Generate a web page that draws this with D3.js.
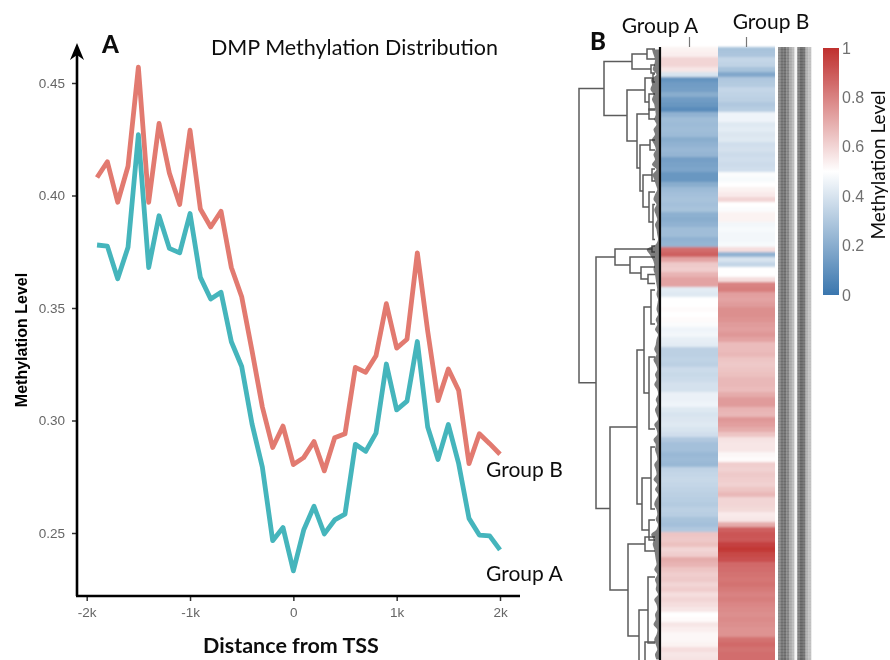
<!DOCTYPE html>
<html>
<head>
<meta charset="utf-8">
<script src="https://cdn.jsdelivr.net/npm/d3@7"></script>
<style>
	html, body { margin: 0; padding: 0; background: #fff; }
	svg { display: block; }
	.lato { font-family: Lato, "Open Sans", sans-serif; fill: #111; }
	.tick text { font-family: "Liberation Sans", Arial, sans-serif; font-size: 13.5px; fill: #666; }
</style>
</head>
<body>
<svg id="fig" width="890" height="660"></svg>
<script>
// panel A, every 100 bp from -1.9k to 2k
var distance = d3.range(-1900, 2001, 100);
var groupB = [.408,.415,.397,.413,.457,.397,.432,.410,.396,.429,.394,.386,.393,.368,.355,.331,.306,.288,.2975,.2804,.2835,.2907,.2776,.2923,.2941,.3236,.3214,.3288,.3519,.3322,.3361,.3745,.3398,.3088,.3229,.3133,.2808,.2941,.2897,.2850];
var groupA = [.378,.3775,.363,.377,.427,.368,.391,.3765,.3745,.392,.3636,.354,.357,.335,.324,.2985,.2793,.2466,.2524,.2332,.2513,.2619,.2496,.2558,.2584,.2894,.2863,.2944,.3251,.3047,.3086,.3351,.2971,.2827,.2982,.2808,.2565,.2491,.2487,.2425];
var xTicks = [-2000, -1000, 0, 1000, 2000];
var xTickLabels = ['-2k', '-1k', '0', '1k', '2k'];
var yTicks = [.25, .30, .35, .40, .45];

// panel B, heatmap rows top to bottom
var heatA = [.53,.54,.60,.60,.56,.40,.11,.14,.15,.20,.14,.12,.08,.22,.26,.25,.26,.25,.20,.22,.24,.23,.15,.16,.17,.12,.12,.20,.25,.27,.28,.27,.28,.21,.20,.22,.26,.26,.22,.23,.85,.88,.72,.63,.62,.68,.72,.72,.43,.42,.50,.50,.51,.50,.51,.49,.46,.47,.44,.43,.33,.33,.34,.33,.37,.36,.37,.39,.39,.45,.45,.46,.42,.40,.41,.42,.40,.38,.30,.27,.27,.24,.25,.24,.34,.35,.36,.35,.34,.33,.32,.31,.33,.32,.28,.27,.30,.64,.63,.65,.60,.62,.70,.68,.64,.62,.63,.60,.62,.58,.60,.58,.56,.50,.51,.56,.54,.52,.52,.53,.58,.56,.57];
var heatB = [.28,.29,.35,.34,.28,.18,.30,.31,.35,.34,.33,.30,.32,.46,.46,.42,.43,.41,.42,.38,.39,.37,.38,.37,.38,.49,.48,.50,.53,.55,.60,.50,.49,.53,.53,.47,.48,.47,.47,.48,.58,.22,.40,.35,.50,.50,.58,.80,.81,.73,.72,.74,.77,.77,.76,.74,.73,.75,.72,.66,.66,.67,.64,.63,.64,.65,.67,.67,.66,.70,.74,.74,.68,.67,.75,.73,.70,.64,.57,.56,.56,.52,.51,.62,.61,.63,.62,.61,.64,.67,.60,.60,.59,.55,.56,.70,.88,.91,.90,.96,.98,.94,.92,.86,.85,.84,.83,.84,.82,.80,.81,.79,.78,.77,.78,.77,.76,.76,.84,.86,.84,.85,.85];
var heatGroups = ['Group A', 'Group B'];
var legendTicks = [0, .2, .4, .6, .8, 1];
var annoDark = [.55,.65,.66,.58,.45,.38,.08,.6,.68,.64,.42,.36];

// dendrogram: [height, upper, lower], a bare number is a row position
var dendro = [82,
	[57,
		[29, [14, .4, 2.4], [10, 3.6, 5.2]],
		[34,
			[16, [8, 5.4, 7], [12, 9.4, 12.6]],
			[24,
				[12, 12.4, 14.4],
				[21,
					[11, 18.6, 20.6],
					[18, [9, 24.4, 26.8], [12, 29, [8, 31.5, 38.5]]]
				]
			]
		]
	],
	[65,
		[46,
			[9, 39.8, 41],
			[31, 42, [20, 44, [13, 45.5, 47.3]]]
		],
		[51,
			[24,
				[17, [10, 48.6, 55.4], [12, 62, 76.4]],
				[19, [10, 80, 92.4], [12, 94.6, 98.6]]
			],
			[33,
				[16, 98, 100.8],
				[22, [13, 106, 119.2], [16, 119, 127]]
			]
		]
	]
];
// how far the fine leaf branches reach out of the heatmap edge, per row
var leafReach = [12,10,8,9,11,6,13,12,14,10,12,9,8,7,9,6,10,8,12,9,7,10,8,12,6,11,9,7,5,8,10,6,9,7,5,8,6,5,4,7,19,15,11,9,10,8,7,6,5,6,4,5,6,4,7,5,8,4,6,7,9,6,10,7,5,8,6,9,5,4,7,5,8,6,4,9,6,5,10,7,8,6,5,9,7,6,10,5,8,4,7,9,6,5,7,4,6,13,10,11,9,8,7,6,9,5,8,6,7,4,9,6,5,8,7,10,5,6,9,7,5,8,6];

var svg = d3.select('#fig');
var defs = svg.append('defs');
defs.append('filter').attr('id', 'soft')
	.attr('x', '-5%').attr('y', '-5%').attr('width', '110%').attr('height', '110%')
	.append('feGaussianBlur').attr('stdDeviation', .55);
defs.append('filter').attr('id', 'softRows')
	.attr('x', '-2%').attr('y', '-1%').attr('width', '104%').attr('height', '102%')
	.append('feGaussianBlur').attr('stdDeviation', '0.5 1.1');
var grad = defs.append('linearGradient').attr('id', 'legendGrad')
	.attr('x1', 0).attr('x2', 0).attr('y1', 1).attr('y2', 0);

var heatColor = d3.scaleLinear().domain([0, .5, 1]).range(['#3a76ae', '#ffffff', '#bf2f2e']);

// ---- panel A
var x = d3.scaleLinear().domain([-2000, 2000]).range([86.7, 500]);
var y = d3.scaleLinear().domain([.25, .45]).range([533, 83]);
var axisX = 77, axisY = 596;

var a = svg.append('g').attr('filter', 'url(#soft)');

var line = d3.line()
	.x(function(d, i) { return x(distance[i]); })
	.y(function(d) { return y(d); });

a.append('path').datum(groupB).attr('d', line)
	.attr('fill', 'none').attr('stroke', '#e27a70').attr('stroke-width', 4.8).attr('stroke-linejoin', 'round');
a.append('path').datum(groupA).attr('d', line)
	.attr('fill', 'none').attr('stroke', '#45b5bc').attr('stroke-width', 4.8).attr('stroke-linejoin', 'round');

var gy = a.append('g').attr('transform', 'translate(' + axisX + ',0)')
	.call(d3.axisLeft(y).tickValues(yTicks).tickSize(5).tickPadding(7).tickFormat(d3.format('.2f')));
gy.select('.domain').remove();
gy.selectAll('.tick line').attr('stroke', '#333').attr('stroke-width', 1.5);

var gx = a.append('g').attr('transform', 'translate(0,' + axisY + ')')
	.call(d3.axisBottom(x).tickValues(xTicks).tickSize(5).tickPadding(6)
		.tickFormat(function(d, i) { return xTickLabels[i]; }));
gx.select('.domain').remove();
gx.selectAll('.tick line').attr('stroke', '#333').attr('stroke-width', 1.5);

a.append('path')
	.attr('d', 'M' + axisX + ',' + axisY + 'V50M' + (axisX - 1) + ',' + axisY + 'H520')
	.attr('fill', 'none').attr('stroke', '#000').attr('stroke-width', 2.6);
a.append('path')
	.attr('d', 'M' + axisX + ',43L' + (axisX + 7) + ',60L' + axisX + ',55L' + (axisX - 7) + ',60Z')
	.attr('fill', '#000');

a.append('text').attr('class', 'lato').attr('x', 102).attr('y', 53)
	.style('font-size', '24px').style('font-weight', 900).text('A');
a.append('text').attr('class', 'lato').attr('x', 211).attr('y', 55)
	.style('font-size', '21.5px').text('DMP Methylation Distribution');
a.append('text').attr('class', 'lato').attr('x', 486).attr('y', 477)
	.style('font-size', '21px').text('Group B');
a.append('text').attr('class', 'lato').attr('x', 486).attr('y', 581)
	.style('font-size', '21px').text('Group A');
a.append('text').attr('class', 'lato').attr('x', 291).attr('y', 653)
	.attr('text-anchor', 'middle')
	.style('font-size', '21.5px').style('font-weight', 700).text('Distance from TSS');
a.append('text')
	.attr('transform', 'translate(27,340) rotate(-90)').attr('text-anchor', 'middle')
	.style('font-family', '"Liberation Sans", Arial, sans-serif')
	.style('font-size', '16px').style('font-weight', 700).text('Methylation Level');

// ---- panel B
var rows = d3.range(heatA.length);
var rowBand = d3.scaleBand().domain(rows).range([47, 47 + 5 * rows.length]);
var rowY = d3.scaleLinear().domain([0, rows.length]).range([47, 47 + 5 * rows.length]);
var col = d3.scaleBand().domain(heatGroups).range([661, 775]);
var dendroX = d3.scaleLinear().domain([0, 82]).range([661, 579]);
var annoX = d3.scaleBand().domain(d3.range(annoDark.length)).range([778, 811]);

var heat = svg.append('g').attr('filter', 'url(#softRows)');
[heatA, heatB].forEach(function(vals, k) {
	heat.append('g').selectAll('rect')
		.data(vals)
		.enter().append('rect')
		.attr('x', col(heatGroups[k]))
		.attr('y', function(d, i) { return rowBand(i); })
		.attr('width', col.bandwidth())
		.attr('height', rowBand.bandwidth() + .5)
		.attr('fill', function(d) { return heatColor(d); });
});

var b = svg.append('g').attr('filter', 'url(#soft)');

// annotation strips
b.append('g').selectAll('rect')
	.data(annoDark)
	.enter().append('rect')
	.attr('x', function(d, i) { return annoX(i); })
	.attr('y', 47)
	.attr('width', annoX.bandwidth() + .3)
	.attr('height', 613)
	.attr('fill', function(d) { return d3.interpolateGreys(d); });
b.append('g').selectAll('line')
	.data(d3.range(48, 660, 3))
	.enter().append('line')
	.attr('x1', 778).attr('x2', 811)
	.attr('y1', function(d) { return d; }).attr('y2', function(d) { return d; })
	.attr('stroke', '#fff').attr('stroke-opacity', .18);

// dendrogram, walks the nested arrays and returns the y of each node
var dg = b.append('g').attr('fill', 'none').attr('stroke', '#5c5c5c').attr('stroke-width', 1.5);
function drawNode(node) {
	if (typeof node == 'number') return { px: 655, py: rowY(node) };
	var h = dendroX(node[0]);
	var up = drawNode(node[1]);
	var lo = drawNode(node[2]);
	dg.append('path').attr('d',
		'M' + up.px + ',' + up.py + 'H' + h + 'V' + lo.py + 'H' + lo.px);
	return { px: h, py: (up.py + lo.py) / 2 };
}
drawNode(dendro);

// fine leaves near the heatmap, a dark scalloped mass along the edge
var leafArea = d3.area()
	.curve(d3.curveCatmullRom)
	.x0(661)
	.x1(function(d) { return dendroX(d * .75); })
	.y(function(d, i) { return rowBand(i) + 2.5; });
b.append('path').datum(leafReach).attr('d', leafArea)
	.attr('fill', '#2a2a2a').attr('fill-opacity', .62);
b.append('line').attr('x1', 660).attr('x2', 660).attr('y1', 47).attr('y2', 660)
	.attr('stroke', '#111').attr('stroke-width', 2.2);

// column ticks and headers
b.append('g').selectAll('line')
	.data(heatGroups)
	.enter().append('line')
	.attr('x1', function(d) { return col(d) + col.bandwidth() / 2; })
	.attr('x2', function(d) { return col(d) + col.bandwidth() / 2; })
	.attr('y1', 37).attr('y2', 47)
	.attr('stroke', '#777').attr('stroke-width', 1.2);
b.append('text').attr('class', 'lato').attr('x', 660).attr('y', 33).attr('text-anchor', 'middle')
	.style('font-size', '21px').text('Group A');
b.append('text').attr('class', 'lato').attr('x', 771).attr('y', 29).attr('text-anchor', 'middle')
	.style('font-size', '21px').text('Group B');
b.append('text').attr('class', 'lato').attr('x', 590).attr('y', 50)
	.style('font-size', '24px').style('font-weight', 900).text('B');

// legend
grad.selectAll('stop')
	.data([0, .5, 1])
	.enter().append('stop')
	.attr('offset', function(d) { return d * 100 + '%'; })
	.attr('stop-color', function(d) { return heatColor(d); });
var legendY = d3.scaleLinear().domain([0, 1]).range([295, 48]);
b.append('rect').attr('x', 823).attr('y', legendY(1))
	.attr('width', 16).attr('height', legendY(0) - legendY(1))
	.attr('fill', 'url(#legendGrad)');
var gl = b.append('g').attr('transform', 'translate(839,0)')
	.call(d3.axisRight(legendY).tickValues(legendTicks).tickSize(0).tickPadding(3)
		.tickFormat(function(d) { return d; }));
gl.select('.domain').remove();
gl.selectAll('text').style('font-size', '16px').style('fill', '#707070');
b.append('text').attr('class', 'lato')
	.attr('transform', 'translate(885,165) rotate(-90)').attr('text-anchor', 'middle')
	.style('font-size', '19px').text('Methylation Level');
</script>
</body>
</html>
